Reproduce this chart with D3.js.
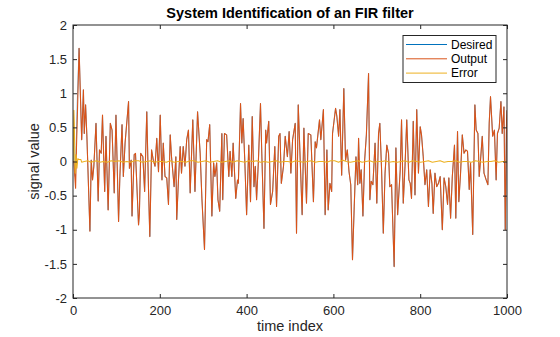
<!DOCTYPE html>
<html>
<head>
<meta charset="utf-8">
<script src="https://cdn.jsdelivr.net/npm/d3@7"></script>
<style>
body { margin: 0; background: #fff; }
svg { display: block; }
</style>
</head>
<body>
<div id="chart"></div>
<script>
const width = 560;
const height = 337;
const margin = {top: 25, right: 53, bottom: 39, left: 73};

// [time index, value] (peaks and troughs)
const desired = [
  [0,0.0],[1,0.31],[3,-0.05],[5,-0.22],[7,0.1],[10,0.9],[14,1.66],
  [20,0.32],[24,1.05],[26,0.41],[29,0.83],[32,0.37],[39,-1.02],[42,0.02],[45,-0.27],[48,-0.07],
  [53,0.56],[58,-0.58],[61,0.17],[65,0.12],[68,0.68],[73,-0.44],[76,0.37],[81,-0.71],[86,0.56],
  [90,0.46],[95,-0.46],[99,0.68],[105,-0.88],[108,-0.22],[113,0.54],[116,-0.22],[120,0.27],
  [128,0.88],[130,-0.1],[134,0.02],[136,-0.8],[141,0.1],[144,0.12],[151,-0.93],[153,-0.76],
  [156,0.12],[161,0.07],[165,-0.44],[170,0.73],[174,-0.41],[177,-1.1],[181,0.17],[185,0.02],
  [189,-0.07],[193,0.34],[197,-0.15],[201,0.68],[205,-0.27],[208,0.27],[212,-0.22],[216,-0.24],
  [220,-0.63],[224,0.39],[227,0.07],[233,-0.37],[237,0.07],[239,-0.85],[243,-0.27],[247,0.22],
  [250,-0.17],[254,0.22],[258,-0.07],[262,0.32],[266,0.46],[270,-0.46],[276,0.61],[281,-0.44],
  [287,0.73],[293,0.12],[297,-0.54],[303,-1.29],[308,0.32],[311,0.29],[315,0.54],[320,-0.8],
  [324,-0.02],[327,-0.22],[331,-0.02],[334,-0.56],[338,-0.73],[343,0.41],[345,-0.56],[349,0.41],
  [354,0.39],[359,-0.22],[362,0.15],[366,-0.22],[369,0.27],[375,-0.54],[379,-0.27],[381,-0.32],
  [386,0.85],[389,0.27],[392,0.63],[396,-0.02],[400,-0.78],[405,0.24],[409,-0.59],[413,0.66],
  [417,-0.37],[420,-0.07],[423,-0.56],[427,-0.02],[432,0.85],[435,0.12],[440,-0.98],[444,0.46],
  [446,0.27],[451,0.59],[455,-0.63],[460,-0.44],[465,0.22],[469,-0.66],[474,0.37],[477,0.41],
  [480,-0.32],[485,-0.07],[489,0.37],[494,0.07],[498,0.44],[502,-0.17],[506,0.32],[512,0.56],
  [515,-1.05],[519,0.83],[528,-0.78],[532,0.49],[538,-0.61],[542,0.41],[548,0.39],[554,-0.59],
  [558,0.29],[561,0.2],[568,0.61],[571,0.32],[577,0.76],[581,-0.78],[585,0.17],[588,-0.71],
  [592,-0.32],[596,-0.44],[598,0.41],[605,0.78],[608,0.66],[612,0.37],[615,0.76],[619,-0.2],
  [624,1.07],[628,0.02],[632,0.17],[636,-0.15],[640,-0.34],[644,-1.44],[648,-0.66],[652,0.07],
  [656,-0.34],[658,0.34],[661,-0.32],[664,-0.12],[668,-0.8],[672,0.02],[676,0.39],[681,1.29],
  [684,-0.56],[687,-0.29],[691,-0.34],[696,0.27],[700,-0.61],[704,0.41],[707,0.56],[711,-0.12],
  [715,-1.05],[719,-0.17],[723,0.24],[727,0.12],[730,-0.37],[734,-0.34],[740,-1.54],[744,0.2],
  [748,-0.78],[754,-0.12],[757,0.61],[761,-0.61],[765,-0.07],[769,0.61],[774,-0.27],[777,-0.32],
  [780,-0.54],[784,0.59],[788,-0.49],[792,0.76],[796,-0.17],[800,0.51],[803,0.39],[807,0.07],
  [811,-0.34],[815,-0.12],[819,-0.66],[823,-0.12],[827,-0.32],[830,-0.76],[834,-0.17],[838,-0.37],
  [842,-0.32],[846,-0.22],[851,-1.0],[855,-0.24],[859,-0.37],[863,-0.63],[866,-0.24],[870,-0.83],
  [874,-0.22],[879,0.24],[882,-0.83],[886,0.44],[889,-0.59],[893,-0.17],[897,0.39],[901,0.12],
  [905,0.17],[909,0.15],[913,-0.41],[916,-0.02],[921,-1.07],[926,0.83],[929,0.46],[933,0.41],
  [936,-0.22],[939,0.02],[943,0.37],[947,-0.17],[952,-0.27],[956,-0.34],[959,0.56],[962,0.95],
  [967,0.37],[971,0.46],[975,-0.27],[978,0.41],[982,0.49],[986,0.88],[989,0.41],[993,0.8],
  [996,-1.0],[999,0.61],[1000,0.75]
];

// the output only differs from the desired signal while the filter adapts
const outputStart = [[0,0],[2,0],[4,-0.2],[6,-0.39],[8,0.2],[11,0.9],[14,1.66]];
const output = outputStart.concat(desired.filter(d => d[0] > 14));

const error = [
  [0,0],[1,0.3],[2,0.75],[3,0.55],[4,0.2],[5,-0.17],[7,0.1],[9,-0.1],[11,0.04],[14,0.03],
  [18,0.03],[20,-0.01],[26,0.0],[34,0.01],[41,-0.01],[47,0.0],[55,0.01],[62,-0.01],[70,0.0],
  [79,-0.01],[88,0.01],[97,0.0],[106,0.01],[115,-0.01],[124,0.0],[133,-0.01],[142,0.01],
  [151,0.01],[160,-0.01],[170,0.0],[179,0.01],[188,-0.01],[197,0.0],[206,0.0],[215,-0.01],
  [224,0.01],[233,-0.01],[242,0.0],[251,0.0],[260,-0.01],[270,0.01],[279,0.01],[288,-0.01],
  [297,0.0],[306,0.01],[315,-0.01],[324,0.0],[333,0.01],[342,-0.01],[351,0.0],[360,0.01],
  [369,-0.01],[378,0.01],[387,0.0],[396,-0.01],[405,0.01],[414,0.0],[423,0.01],[432,-0.01],
  [441,0.0],[450,-0.01],[459,0.0],[468,0.01],[477,-0.01],[486,0.0],[495,0.0],[504,-0.01],
  [513,0.01],[522,0.0],[531,-0.01],[540,0.0],[549,0.01],[558,-0.01],[567,0.0],[576,0.0],
  [585,-0.01],[594,0.01],[603,0.01],[612,-0.01],[621,0.02],[630,0.0],[639,-0.01],[648,0.0],
  [657,0.01],[666,-0.01],[675,0.0],[684,0.01],[693,-0.01],[702,0.0],[711,0.0],[720,0.01],
  [729,-0.01],[738,0.0],[747,-0.01],[756,0.0],[765,0.01],[774,-0.01],[783,0.01],[792,0.0],
  [801,-0.01],[810,0.0],[819,0.01],[828,-0.01],[837,0.0],[846,0.01],[855,-0.01],[864,0.0],
  [873,0.0],[882,0.01],[891,-0.01],[900,0.0],[909,0.0],[918,-0.01],[927,0.01],[936,0.0],
  [945,-0.01],[954,0.0],[963,0.0],[972,0.01],[981,-0.01],[990,0.0],[1000,0.0]
];

const seriesNames = ["Desired", "Output", "Error"];
const seriesColors = ["#0072BD", "#D95319", "#EDB120"];
const seriesWidths = [0.6, 1.1, 1.1];
const xTicks = [0, 200, 400, 600, 800, 1000];
const yTicks = [-2, -1.5, -1, -0.5, 0, 0.5, 1, 1.5, 2];

const axisColor = "#262626";
const font = "Arial, 'Liberation Sans', Helvetica, sans-serif";

const svg = d3.select("#chart").append("svg")
    .attr("width", width)
    .attr("height", height)
    .style("background", "#fff");

const x = d3.scaleLinear()
    .domain([0, 1000])
    .range([margin.left, width - margin.right]);

const y = d3.scaleLinear()
    .domain([-2, 2])
    .range([height - margin.bottom, margin.top]);

svg.append("clipPath")
    .attr("id", "plot-clip")
    .append("rect")
    .attr("x", margin.left)
    .attr("y", margin.top)
    .attr("width", width - margin.left - margin.right)
    .attr("height", height - margin.top - margin.bottom);

// lines
const line = d3.line()
    .x(d => x(d[0]))
    .y(d => y(d[1]));

const lines = svg.append("g").attr("clip-path", "url(#plot-clip)");
[desired, output, error].forEach((s, i) => {
    lines.append("path")
        .datum(s)
        .attr("fill", "none")
        .attr("stroke", seriesColors[i])
        .attr("stroke-width", seriesWidths[i])
        .attr("stroke-linejoin", "round")
        .attr("d", line);
});

// axes, ticks pointing inwards on all four sides
function styleAxis(g) {
    g.select(".domain").remove();
    g.selectAll(".tick line").attr("stroke", axisColor);
    g.selectAll(".tick text")
        .attr("fill", axisColor)
        .attr("font-family", font)
        .attr("font-size", "13px");
}

svg.append("g")
    .attr("transform", `translate(0,${height - margin.bottom})`)
    .call(d3.axisBottom(x).tickValues(xTicks).tickSizeInner(-4).tickSizeOuter(0).tickPadding(8)
        .tickFormat(d => String(d)))
    .call(styleAxis);

svg.append("g")
    .attr("transform", `translate(0,${margin.top})`)
    .call(d3.axisTop(x).tickValues(xTicks).tickSizeInner(-4).tickSizeOuter(0).tickFormat(""))
    .call(styleAxis);

svg.append("g")
    .attr("transform", `translate(${margin.left},0)`)
    .call(d3.axisLeft(y).tickValues(yTicks).tickSizeInner(-4).tickSizeOuter(0).tickPadding(6)
        .tickFormat(d => String(d)))
    .call(styleAxis);

svg.append("g")
    .attr("transform", `translate(${width - margin.right},0)`)
    .call(d3.axisRight(y).tickValues(yTicks).tickSizeInner(-4).tickSizeOuter(0).tickFormat(""))
    .call(styleAxis);

svg.append("rect")
    .attr("x", margin.left)
    .attr("y", margin.top)
    .attr("width", width - margin.left - margin.right)
    .attr("height", height - margin.top - margin.bottom)
    .attr("fill", "none")
    .attr("stroke", axisColor)
    .attr("stroke-width", 1);

// labels
svg.append("text")
    .attr("x", (margin.left + width - margin.right) / 2)
    .attr("y", 18)
    .attr("text-anchor", "middle")
    .attr("font-family", font)
    .attr("font-size", "14.5px")
    .attr("font-weight", "bold")
    .attr("fill", "#000")
    .text("System Identification of an FIR filter");

svg.append("text")
    .attr("x", (margin.left + width - margin.right) / 2)
    .attr("y", 331)
    .attr("text-anchor", "middle")
    .attr("font-family", font)
    .attr("font-size", "14.5px")
    .attr("fill", axisColor)
    .text("time index");

svg.append("text")
    .attr("transform", `translate(39,${(margin.top + height - margin.bottom) / 2}) rotate(-90)`)
    .attr("text-anchor", "middle")
    .attr("font-family", font)
    .attr("font-size", "14.5px")
    .attr("fill", axisColor)
    .text("signal value");

// legend
const legend = svg.append("g").attr("transform", "translate(403,35.5)");
legend.append("rect")
    .attr("width", 93)
    .attr("height", 47)
    .attr("fill", "#fff")
    .attr("stroke", axisColor)
    .attr("stroke-width", 1);

seriesNames.forEach((name, i) => {
    const row = legend.append("g").attr("transform", `translate(0,${9 + i * 14.3})`);
    row.append("line")
        .attr("x1", 3).attr("x2", 44)
        .attr("stroke", seriesColors[i])
        .attr("stroke-width", 1);
    row.append("text")
        .attr("x", 48)
        .attr("dy", "0.35em")
        .attr("font-family", font)
        .attr("font-size", "12px")
        .attr("fill", "#000")
        .text(name);
});
</script>
</body>
</html>
